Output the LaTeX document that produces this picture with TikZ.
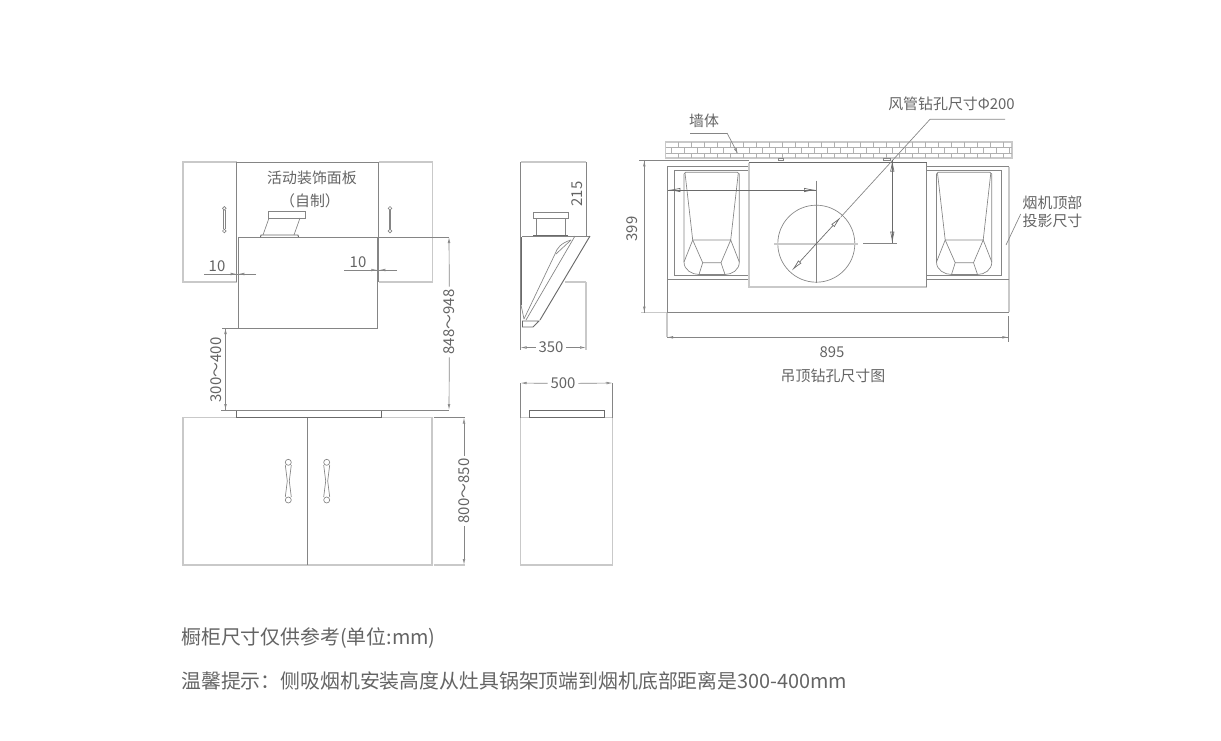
\documentclass[tikz,border=0pt]{standalone}
\usepackage{fontspec}
\setmainfont{Noto Sans CJK SC}
\usetikzlibrary{arrows.meta}
\definecolor{thingray}{HTML}{858585}
\definecolor{widegray}{HTML}{C9C9C9}
\definecolor{darkgray}{HTML}{6A6A6A}
\definecolor{textgray}{HTML}{646464}
\tikzstyle{thinline} = [draw=thingray, line width=0.5pt]
\tikzstyle{wideline} = [draw=widegray, line width=1.3pt]
\tikzstyle{darkline} = [draw=darkgray, line width=0.7pt]
\tikzstyle{brickline} = [draw=thingray!65, line width=0.45pt]
\tikzstyle{dimline} = [draw=thingray, line width=0.5pt, -{Latex[open,length=4.5pt,width=2pt]}]
\tikzstyle{longtip} = [draw=darkgray, line width=0.5pt, -{Latex[open,length=9pt,width=3.2pt]}]
\tikzstyle{mylabel} = [text=textgray, font=\fontsize{11.2pt}{13pt}\selectfont, inner sep=2pt]
\tikzstyle{notelabel} = [text=textgray, font=\fontsize{11.2pt}{13pt}\selectfont, inner sep=0pt]
\tikzstyle{bottomlabel} = [text=textgray, font=\fontsize{14.9pt}{18pt}\selectfont, inner sep=0pt, anchor=west]
\begin{document}
\begin{tikzpicture}[x=0.75pt, y=-0.75pt]
    \useasboundingbox (0,0) rectangle (1221,740);
    % front view: wall units and hood
    \draw [wideline] (236.5,282) -- (183,282) -- (183,162) -- (236.5,162);
    \draw [wideline] (378.5,282) -- (432.5,282) -- (432.5,162) -- (378.5,162);
    \draw [thinline] (236.5,162) -- (378.5,162);
    \draw [thinline] (236.5,162) -- (236.5,282);
    \draw [thinline] (378.5,162) -- (378.5,282);
    \draw [thinline] (238,237) rectangle (377,328);
    \draw [thinline] (268.5,211.5) rectangle (305,218);
    \draw [thinline] (269,218) -- (263,235) (300,218) -- (294,235);
    \draw [darkline] (260.5,237) -- (261,235) -- (298,235) -- (298.5,237);
    \foreach \hx in {224.3,390} {
        \draw [thinline] (\hx,208.3) circle (1.8) (\hx,231) circle (1.8);
        \draw [thinline] (\hx-0.8,210) -- (\hx-0.8,229) (\hx+0.8,210) -- (\hx+0.8,229);
    }
    % front view: base unit
    \draw [wideline] (183,417.5) rectangle (432,565);
    \draw [thinline] (307.5,417.5) -- (307.5,565);
    \draw [darkline] (236.5,410.5) rectangle (381.5,417.5);
    \foreach \hx in {288.3,326.7} {
        \draw [thinline] (\hx,462.3) circle (3) (\hx,500) circle (3);
        \draw [thinline] (\hx-3,465) -- (\hx-1,481) -- (\hx-3,497);
        \draw [thinline] (\hx+3,465) -- (\hx+1,481) -- (\hx+3,497);
    }
    % side view
    \draw [wideline] (520.5,162) -- (586,162);
    \draw [thinline] (520.5,162) -- (520.5,350);
    \draw [thinline] (586,162) -- (586,236);
    \draw [wideline] (586,282) -- (586,350);
    \draw [wideline] (565,282) -- (586,282);
    \draw [thinline] (533,212) rectangle (568,218);
    \draw [thinline] (536,218) -- (536,235) (565,218) -- (565,235);
    \draw [darkline] (533,235.5) -- (568,235.5);
    \draw [thinline] (522,236) -- (590,236);
    \draw [darkline] (590,236) -- (540,320);
    \draw [darkline] (521,237) -- (521,305);
    \draw [thinline] (521,305) -- (524,319);
    \draw [darkline] (522.5,321) -- (539,321) -- (533,327) -- (522.5,327) -- cycle;
    \draw [thinline] (575,236) -- (526,320);
    \draw [thinline] (571,240) .. controls (561,243) and (557,248) .. (555,254) -- (524,319);
    \draw [thinline] (571,240) -- (556,254);
    \draw [wideline] (520.5,417.5) rectangle (612.5,565);
    \draw [darkline] (529,410.5) rectangle (604,417.5);
    % ceiling view: wall
    \draw [wideline] (665.5,142.3) rectangle (1012.3,158.3);
    \draw [brickline] (665.5,147.7) -- (1012.3,147.7) (665.5,153) -- (1012.3,153);
    \foreach \bx in {0,...,25} {
        \draw [brickline] (678.3+13*\bx,142.3) -- (678.3+13*\bx,147.7);
        \draw [brickline] (678.3+13*\bx,153) -- (678.3+13*\bx,158.3);
    }
    \foreach \bx in {0,...,26} {
        \draw [brickline] (671.7+13*\bx,147.7) -- (671.7+13*\bx,153);
    }
    % ceiling view: outline and two hoods
    \draw [thinline] (667,312.3) -- (667,166.7) -- (1009,166.7);
    \draw [wideline] (1009,166.7) -- (1009,312.3);
    \draw [thinline] (667,312.3) -- (1009,312.3);
    \draw [thinline] (667,279.3) -- (1009,279.3);
    \draw [thinline] (674.3,170) rectangle (1001.7,275.7);
    \foreach \sx in {0,252.5} {
        \begin{scope}[shift={(\sx,0)}]
            \draw [thinline] (684,262) -- (684,174) -- (685.5,172.3) -- (737.5,172.3) -- (739.3,174) -- (739.3,262)
                .. controls (739.3,270) and (732,274.5) .. (725,274.5) -- (699,274.5)
                .. controls (692,274.5) and (684,270) .. (684,262);
            \draw [thinline] (685,173) -- (692.7,240) -- (730.7,240) -- (738.3,173);
            \draw [thinline] (684,262) -- (692.7,240) -- (702.7,262.7) -- (721,262.7) -- (730.7,240) -- (739.3,262);
            \draw [thinline] (702.7,262.7) -- (699,274.5) (721,262.7) -- (725,274.5);
        \end{scope}
    }
    % ceiling view: panel and duct hole
    \path [fill=white] (748.7,162.7) rectangle (926.7,286.7);
    \draw [wideline] (748.7,162.7) -- (748.7,286.7) -- (926.7,286.7);
    \draw [thinline] (926.7,162.7) -- (926.7,286.7);
    \draw [darkline] (748.7,162) -- (926.7,162);
    \draw [thinline] (778,158.3) rectangle (783,160.3) (883,158.3) rectangle (890,160.3);
    \draw [thinline] (816.3,243.7) circle (38.5);
    \draw [wideline] (774.3,243.7) -- (858,243.7);
    \draw [thinline] (816.3,180.7) -- (816.3,282.7);
    % Place nodes
    \node [notelabel] (panel) at (312,178) {活动装饰面板};
    \node [notelabel] (panelnote) at (310,201) {（自制）};
    \node [mylabel] (gapleft) at (217,266) {10};
    \node [mylabel] (gapright) at (358,262) {10};
    \node [mylabel, rotate=90] (hoodheight) at (449.5,322) {848～948};
    \node [mylabel, rotate=90] (clearance) at (216,370) {300～400};
    \node [mylabel, rotate=90] (baseheight) at (464,491) {800～850};
    \node [mylabel, rotate=90] (ductheight) at (577,194) {215};
    \node [mylabel] (hooddepth) at (551,347.5) {350};
    \node [mylabel] (basedepth) at (563,383.5) {500};
    \node [notelabel] (wall) at (704,120.5) {墙体};
    \node [notelabel] (drill) at (951.5,104) {风管钻孔尺寸Φ200};
    \node [notelabel] (projtop) at (1052.5,203) {烟机顶部};
    \node [notelabel] (projbottom) at (1052.5,221) {投影尺寸};
    \node [mylabel, rotate=90] (ceilheight) at (632,229) {399};
    \node [mylabel] (ceilwidth) at (832,352) {895};
    \node [notelabel] (ceiltitle) at (833,376) {吊顶钻孔尺寸图};
    \node [bottomlabel] (noteone) at (181,638.5) {橱柜尺寸仅供参考(单位:mm)};
    \node [bottomlabel] (notetwo) at (181,680.5) {温馨提示：侧吸烟机安装高度从灶具锅架顶端到烟机底部距离是300-400mm};
    % free ends of the connectors
    \coordinate (gapla) at (204,274);
    \coordinate (gaplb) at (236.7,274);
    \coordinate (gaplc) at (256,274);
    \coordinate (gapld) at (238.3,274);
    \coordinate (gapra) at (344,270);
    \coordinate (gaprb) at (377.3,270);
    \coordinate (gaprc) at (397,270);
    \coordinate (gaprd) at (379.3,270);
    \coordinate (hoodtop) at (449,237);
    \coordinate (hoodbottom) at (449,410);
    \coordinate (hoodext) at (377,237);
    \coordinate (countext) at (221,410.3);
    \coordinate (countend) at (449,410.3);
    \coordinate (clearext) at (222,328);
    \coordinate (clearcorner) at (238,328);
    \coordinate (cleartop) at (225.5,328);
    \coordinate (clearbottom) at (225.5,410);
    \coordinate (basetopa) at (433.5,417.5);
    \coordinate (basetopb) at (465,417.5);
    \coordinate (basebota) at (433.5,565);
    \coordinate (basebotb) at (465,565);
    \coordinate (basetop) at (464,417.5);
    \coordinate (basebottom) at (464,565);
    \coordinate (depthleft) at (520.5,347.5);
    \coordinate (depthright) at (586,347.5);
    \coordinate (baseleft) at (520.5,383);
    \coordinate (baseright) at (612.5,383);
    \coordinate (baselefte) at (520.5,417.5);
    \coordinate (baserighte) at (612.5,417.5);
    \coordinate (wallbend) at (727,133);
    \coordinate (wallstart) at (690,133);
    \coordinate (wallend) at (738,154);
    \coordinate (drillend) at (1005,119.3);
    \coordinate (drillbend) at (930,119.3);
    \coordinate (holecenter) at (816.3,243.7);
    \coordinate (holefar) at (791.7,270.7);
    \coordinate (holenear) at (841,216.8);
    \coordinate (holeside) at (816,190);
    \coordinate (panelside) at (668.3,190);
    \coordinate (risetop) at (892.3,159.5);
    \coordinate (risebottom) at (892.3,243.7);
    \coordinate (riseext) at (897,243.7);
    \coordinate (riseexb) at (863,243.7);
    \coordinate (projstart) at (1020.7,214);
    \coordinate (projend) at (1006,245);
    \coordinate (ceiltop) at (644.3,160.4);
    \coordinate (ceilbottom) at (644.3,312.6);
    \coordinate (ceiltopa) at (639,160.4);
    \coordinate (ceiltopb) at (749,160.4);
    \coordinate (ceilbota) at (641,312.6);
    \coordinate (ceilbotb) at (667,312.6);
    \coordinate (widthleft) at (667,337.3);
    \coordinate (widthright) at (1008.3,337.3);
    \coordinate (widthlefta) at (667,312.6);
    \coordinate (widthrighta) at (1008.3,316);
    \coordinate (widthrightb) at (1008.3,341.7);
    % Draw edges
    \path [thinline] (gapla) -- (gaplc);
    \path [thinline] (gapra) -- (gaprc);
    \path [dimline] (gapla) -- (gaplb);
    \path [dimline] (gaplc) -- (gapld);
    \path [dimline] (gapra) -- (gaprb);
    \path [dimline] (gaprc) -- (gaprd);
    \path [thinline] (hoodext) -- (hoodtop);
    \path [thinline] (countext) -- (countend);
    \path [dimline] (hoodheight) -- (hoodtop);
    \path [dimline] (hoodheight) -- (hoodbottom);
    \path [thinline] (clearext) -- (clearcorner);
    \path [dimline] (clearbottom) -- (cleartop);
    \path [dimline] (cleartop) -- (clearbottom);
    \path [thinline] (basetopa) -- (basetopb);
    \path [wideline] (basebota) -- (basebotb);
    \path [dimline] (baseheight) -- (basetop);
    \path [dimline] (baseheight) -- (basebottom);
    \path [dimline] (hooddepth) -- (depthleft);
    \path [dimline] (hooddepth) -- (depthright);
    \path [dimline] (basedepth) -- (baseleft);
    \path [dimline] (basedepth) -- (baseright);
    \path [thinline] (baseleft) -- (baselefte);
    \path [thinline] (baseright) -- (baserighte);
    \path [thinline] (wallstart) -- (wallbend);
    \path [dimline] (wallbend) -- (wallend);
    \path [thinline] (drillend) -- (drillbend) -- (holenear);
    \path [longtip] (holecenter) -- (holenear);
    \path [longtip] (holecenter) -- (holefar);
    \path [longtip] (holeside) -- (panelside);
    \path [longtip] (panelside) -- (holeside);
    \path [longtip] (risebottom) -- (risetop);
    \path [longtip] (risetop) -- (risebottom);
    \path [thinline] (riseexb) -- (riseext);
    \path [thinline] (projstart) -- (projend);
    \path [thinline] (ceiltopa) -- (ceiltopb);
    \path [wideline] (ceilbota) -- (ceilbotb);
    \path [dimline] (ceilbottom) -- (ceiltop);
    \path [dimline] (ceiltop) -- (ceilbottom);
    \path [wideline] (widthlefta) -- (widthleft);
    \path [thinline] (widthrighta) -- (widthrightb);
    \path [dimline] (widthright) -- (widthleft);
    \path [dimline] (widthleft) -- (widthright);
\end{tikzpicture}
\end{document}
